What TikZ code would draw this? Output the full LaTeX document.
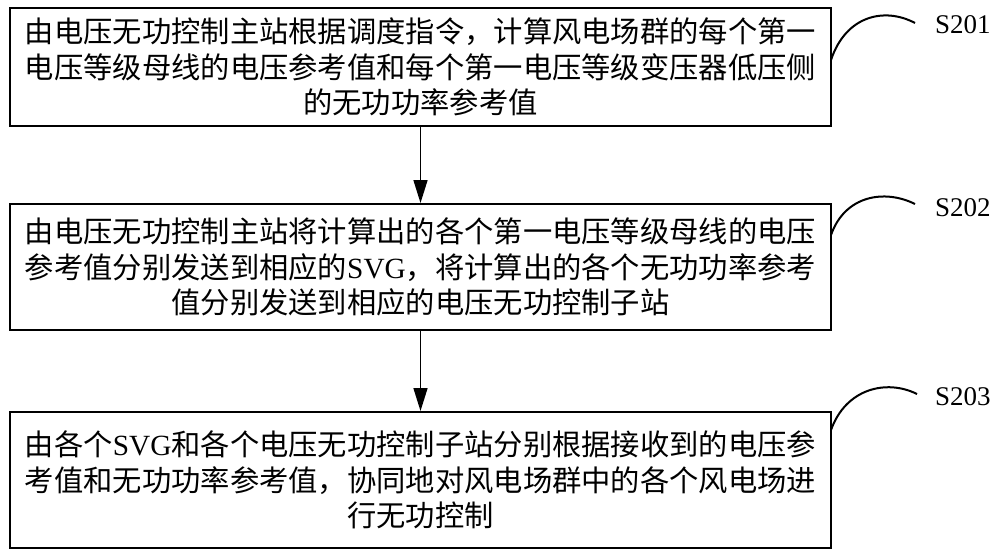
\documentclass[tikz,border=0pt]{standalone}
\usepackage{fontspec}
\setmainfont{Liberation Serif}
\newfontfamily\cjk{Noto Sans CJK SC}
\usetikzlibrary{arrows.meta}
\tikzset{
  stepbox/.style={draw, line width=2pt, inner sep=0pt, minimum width=821pt, align=center,
    font=\cjk\fontsize{29.3}{35.5}\selectfont},
  flow/.style={line width=1.6pt, -{Triangle[length=23pt,width=14pt]}},
  tag/.style={font=\fontsize{27}{30}\selectfont, inner sep=0pt, anchor=west},
  leader/.style={line width=2pt}
}
\newcommand{\lat}[1]{{\rmfamily #1}}
\begin{document}
\begin{tikzpicture}[x=1pt,y=-1pt]
\useasboundingbox (0,0) rectangle (1000,557);
\node[stepbox, minimum height=118pt] (b1) at (420.5,67)
  {由电压无功控制主站根据调度指令，计算风电场群的每个第一\\
   电压等级母线的电压参考值和每个第一电压等级变压器低压侧\\
   的无功功率参考值};
\node[stepbox, minimum height=126pt] (b2) at (420.5,267)
  {由电压无功控制主站将计算出的各个第一电压等级母线的电压\\
   参考值分别发送到相应的\lat{SVG}，将计算出的各个无功功率参考\\
   值分别发送到相应的电压无功控制子站};
\node[stepbox, minimum height=136pt] (b3) at (420.5,480)
  {由各个\lat{SVG}和各个电压无功控制子站分别根据接收到的电压参\\
   考值和无功功率参考值，协同地对风电场群中的各个风电场进\\
   行无功控制};
\draw[flow] (b1.south) -- (b2.north);
\draw[flow] (b2.south) -- (b3.north);
\node[tag] (l1) at (935,25) {S201};
\node[tag] (l2) at (935,208) {S202};
\node[tag] (l3) at (935,397) {S203};
\coordinate (s1) at (831,60);  \coordinate (e1) at (915,23);
\coordinate (s2) at (831,235); \coordinate (e2) at (915,204);
\coordinate (s3) at (831,430); \coordinate (e3) at (917,394);
\draw[leader] (s1) .. controls +(15,-45) and +(-30,-16) .. (e1);
\draw[leader] (s2) .. controls +(14,-40) and +(-30,-15) .. (e2);
\draw[leader] (s3) .. controls +(15,-42) and +(-30,-15) .. (e3);
\end{tikzpicture}
\end{document}
